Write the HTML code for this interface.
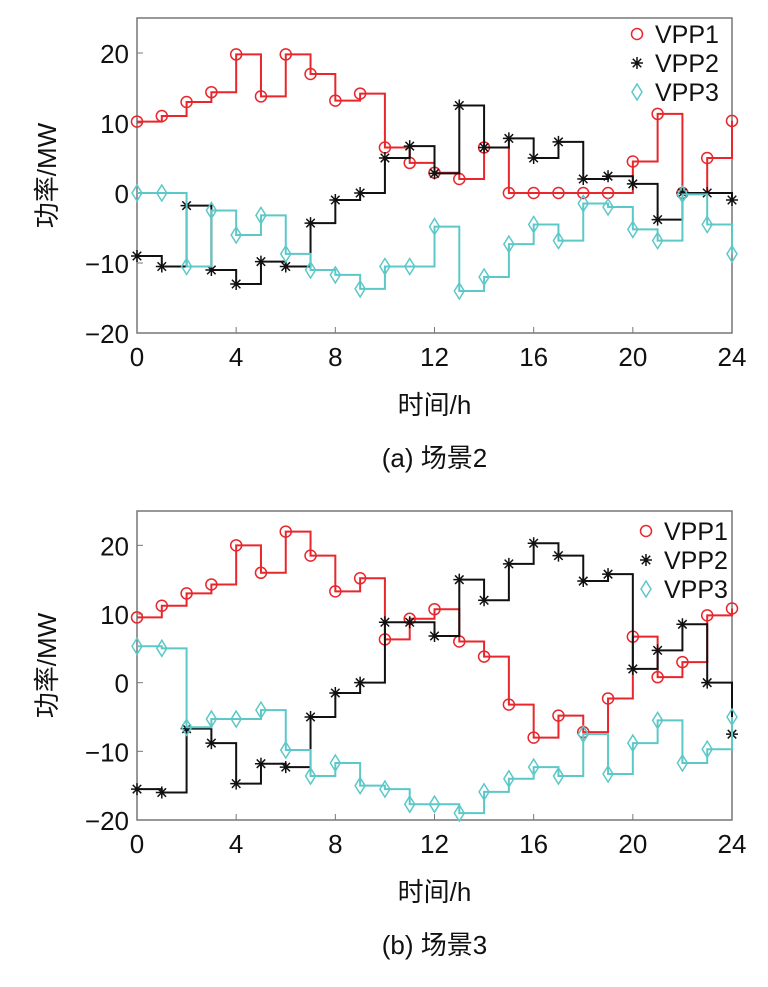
<!DOCTYPE html>
<html><head><meta charset="utf-8"><style>
body{margin:0;background:#fff}
svg{display:block;font-family:"Liberation Sans","Noto Sans CJK SC",sans-serif}
</style></head><body>
<svg id="s" width="768" height="987" viewBox="0 0 768 987"></svg>
<script>
const hours=[0,1,2,3,4,5,6,7,8,9,10,11,12,13,14,15,16,17,18,19,20,21,22,23,24];
const xTicks=[0,4,8,12,16,20,24];
const yTicks=[20,10,0,-10,-20];
const seriesNames=["VPP1","VPP2","VPP3"];
const a_vpp1=[10.2,11,13,14.4,19.8,13.8,19.8,17,13.2,14.2,6.5,4.3,2.9,2,6.5,0,0,0,0,0,4.5,11.3,0,5,10.3];
const a_vpp2=[-9,-10.5,-1.8,-11,-13,-9.8,-10.5,-4.3,-1,0,5,6.7,2.8,12.5,6.5,7.8,5,7.3,2,2.4,1.3,-3.8,0,0,-1];
const a_vpp3=[0,0,-10.5,-2.5,-6,-3.2,-8.7,-11,-11.7,-13.7,-10.5,-10.5,-4.8,-14,-12,-7.3,-4.5,-6.8,-1.5,-2,-5.2,-6.8,-0.2,-4.5,-8.7];
const b_vpp1=[9.5,11.2,13,14.3,20,16,22,18.5,13.3,15.2,6.3,9.3,10.7,6,3.8,-3.2,-8,-4.8,-7.2,-2.3,6.7,0.8,3,9.8,10.8];
const b_vpp2=[-15.5,-16,-6.7,-8.8,-14.7,-11.8,-12.3,-5,-1.5,0,8.8,8.8,6.8,15,12,17.3,20.3,18.5,14.8,15.8,2,4.7,8.5,0,-7.5];
const b_vpp3=[5.3,5,-6.5,-5.3,-5.3,-4,-9.8,-13.6,-11.7,-15,-15.5,-17.7,-17.7,-19,-15.9,-14,-12.3,-13.6,-7.5,-13.3,-8.8,-5.5,-11.7,-9.7,-5];

const NS="http://www.w3.org/2000/svg";
const svg=document.getElementById('s');
function el(t,at,p){const e=document.createElementNS(NS,t);for(const k in at)e.setAttribute(k,at[k]);(p||svg).appendChild(e);return e;}
const colors=["#e8262c","#111111","#5cc8c8"];

function panel(id,top,bottom,series,caption,legY,legX){
  const L=137,R=732,ymin=-20,ymax=25;
  const X=v=>L+(v-0)/24*(R-L);
  const Y=v=>bottom-(v-ymin)/(ymax-ymin)*(bottom-top);
  const g=el('g',{});
  
  
  el('rect',{x:L,y:top,width:R-L,height:bottom-top,fill:'none',stroke:'#777','stroke-width':1.5},g);
  xTicks.forEach(t=>{
    el('line',{x1:X(t),x2:X(t),y1:bottom,y2:bottom-6,stroke:'#777'},g);
    const tx=el('text',{x:X(t),y:bottom+33,'font-size':26,'text-anchor':'middle',fill:'#111'},g);
    tx.textContent=t;
    
    
  });
  yTicks.forEach(t=>{
    el('line',{x1:L,x2:L+6,y1:Y(t),y2:Y(t),stroke:'#777'},g);
    const tx=el('text',{x:L-8,y:Y(t)+10,'font-size':26,'text-anchor':'end',fill:'#111'},g);
    tx.textContent=(t<0?'\u2212':'')+Math.abs(t);
    
    
  });
  series.forEach((vals,si)=>{
    let d='M'+X(hours[0])+','+Y(vals[0]);
    for(let i=1;i<hours.length;i++){d+=' H'+X(hours[i])+' V'+Y(vals[i]);}
    const p=el('path',{d:d,fill:'none',stroke:colors[si],'stroke-width':2},g);
    
    
    hours.forEach((h,i)=>marker(g,si,X(h),Y(vals[i])));
  });
  seriesNames.forEach((n,si)=>{
    const y=legY+si*29;
    marker(g,si,legX,y);
    const t=el('text',{x:legX+18,y:y+9,'font-size':25,fill:'#111'},g);
    t.textContent=n;
    
    
  });
  const xl=el('text',{x:(L+R)/2,y:bottom+81,'font-size':26,'text-anchor':'middle',fill:'#111'},g);
  xl.textContent='时间/h';
  
  
  const cy=(top+bottom)/2;
  const yl=el('text',{x:0,y:0,'font-size':26,'text-anchor':'middle',fill:'#111',transform:'translate(56,'+cy+') rotate(-90)'},g);
  yl.textContent='功率/MW';
  
  
  const cp=el('text',{x:(L+R)/2,y:bottom+134,'font-size':26,'text-anchor':'middle',fill:'#111'},g);
  cp.textContent=caption;
  
  
}
function marker(g,si,x,y){
  let m;
  if(si===0){m=el('circle',{cx:x,cy:y,r:5.5,fill:'none',stroke:colors[0],'stroke-width':1.5},g);}
  else if(si===1){
    let d='';for(let k=0;k<4;k++){const a=k*Math.PI/4,dx=6*Math.cos(a),dy=6*Math.sin(a);d+='M'+(x-dx)+','+(y-dy)+'L'+(x+dx)+','+(y+dy);}
    m=el('path',{d:d,stroke:colors[1],'stroke-width':1.5},g);
  } else {m=el('path',{d:`M${x},${y-8}L${x+5},${y}L${x},${y+8}L${x-5},${y}Z`,fill:'none',stroke:colors[2],'stroke-width':1.5},g);}
  
  
}
panel('scenario2',18,333,[a_vpp1,a_vpp2,a_vpp3],'(a) 场景2',34,637);
panel('scenario3',511,820,[b_vpp1,b_vpp2,b_vpp3],'(b) 场景3',531,646);
</script>
</body></html>
